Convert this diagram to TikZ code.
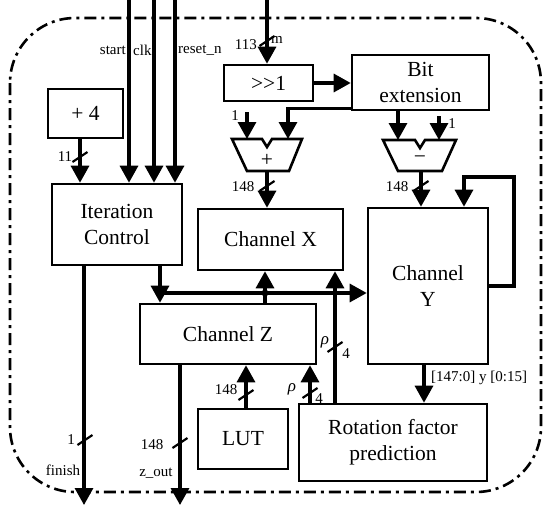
\documentclass[tikz,border=0pt]{standalone}
\usepackage{fontspec}
\setmainfont{Liberation Serif}
\usetikzlibrary{arrows.meta,calc}
\newcommand\bigf{\fontsize{21.5}{26}\selectfont}
\newcommand\smallf{\fontsize{15}{17}\selectfont}
\tikzset{
  box/.style={draw, line width=2.6pt, font=\bigf, align=center, inner sep=0pt},
  wire/.style={line width=3.2pt},
  arr/.style={wire, -{Triangle[length=17pt,width=18pt]}},
  lbl/.style={font=\smallf, inner sep=0pt},
  rho/.style={font=\fontsize{17}{18}\selectfont\itshape, inner sep=0pt},
  bslash/.style={line width=2.2pt},
  border/.style={line width=2.6pt, dash pattern=on 12pt off 5pt on 3pt off 5pt, rounded corners=65pt},
  alu/.style={line width=2.6pt, line join=miter}
}
\begin{document}
\begin{tikzpicture}[x=1pt,y=-1pt]
\useasboundingbox (0,0) rectangle (550,514);
\draw[border] (10,18) rectangle (541,492);

% boxes
\node[box, minimum width=75pt, minimum height=49pt] (plus4) at (85.5,113.5) {+ 4};
\node[box, minimum width=130pt, minimum height=81pt] (ic) at (117,224.5) {Iteration\\Control};
\node[box, minimum width=89pt, minimum height=36pt] (shr) at (268.5,83) {>{}>1};
\node[box, minimum width=137pt, minimum height=55pt] (bitext) at (420.5,82.5) {Bit\\extension};
\node[box, minimum width=145pt, minimum height=61pt] (chx) at (270.5,239.5) {Channel X};
\node[box, minimum width=120pt, minimum height=156pt] (chy) at (428,286) {Channel\\Y};
\node[box, minimum width=176pt, minimum height=60pt] (chz) at (228,334) {Channel Z};
\node[box, minimum width=90pt, minimum height=60pt] (lut) at (243,439) {LUT};
\node[box, minimum width=188pt, minimum height=77pt] (rfp) at (393,442.5) {Rotation factor\\prediction};

% adder and subtractor
\draw[alu] (232,139) -- (262,139) -- (267,147) -- (272,139) -- (302,139) -- (289,171) -- (247,171) -- cycle;
\node[font=\bigf, inner sep=0pt] (addsym) at (267,160) {+};
\coordinate (addL) at (247,139);
\coordinate (addR) at (288,139);
\coordinate (addO) at (267,171);
\draw[alu] (383,140) -- (415,140) -- (420,148) -- (425,140) -- (456,140) -- (442,171) -- (398,171) -- cycle;
\node[font=\bigf, inner sep=0pt] (subsym) at (420,160) {−};
\coordinate (subL) at (398,140);
\coordinate (subR) at (439,140);
\coordinate (subO) at (421,171);

% free ends and columns
\coordinate (start) at (129,0);
\coordinate (clk) at (154,0);
\coordinate (rst) at (175,0);
\coordinate (min) at (267,0);
\coordinate (p4x) at (80,0);
\coordinate (one1) at (247,112);
\coordinate (one2) at (439,116);
\coordinate (icx) at (160,0);
\coordinate (bus) at (160,293);
\coordinate (zx) at (265,0);
\coordinate (rx) at (335,0);
\coordinate (rz) at (310,0);
\coordinate (lx) at (246,0);
\coordinate (yx) at (424,0);
\coordinate (fin) at (84,505);
\coordinate (zout) at (180,505);
\coordinate (fbR) at (514,177);
\path (chy.north) ++(36,0) coordinate (fbIn);

% inputs
\draw[arr] (start) -- (start |- ic.north);
\draw[arr] (clk) -- (clk |- ic.north);
\draw[arr] (rst) -- (rst |- ic.north);
\node[lbl, anchor=east] (lstart) at (126,50) {start};
\node[lbl, anchor=west] (lclk) at (133,50) {clk};
\node[lbl, anchor=west] (lrst) at (178,50) {reset\_n};

\draw[arr] (min) -- (min |- shr.north);
\draw[bslash] (267,41) ++(-7.5,5) -- ++(15,-10);
\node[lbl, anchor=east] (l113) at (257,45) {113};
\node[lbl, anchor=west] (lm) at (271,40) {m};

\draw[arr] (plus4.south -| p4x) -- (ic.north -| p4x);
\draw[bslash] (80,157) ++(-7.5,5) -- ++(15,-10);
\node[lbl] (l11) at (65,157) {11};

\draw[arr] (shr.east) -- (bitext.west |- shr.east);
\draw[arr] ([yshift=3pt]bitext.south west) -| (addR);
\draw[arr] (one1) -- (addL);
\node[lbl] (lone1) at (235,116) {1};
\draw[arr] (bitext.south -| subL) -- (subL);
\draw[arr] (one2) -- (subR);
\node[lbl] (lone2) at (452,124) {1};

\draw[arr] (addO) -- (chx.north -| addO);
\draw[bslash] (267,186) ++(-7.5,5) -- ++(15,-10);
\node[lbl] (l148a) at (243,187) {148};
\draw[arr] (subO) -- (chy.north -| subO);
\draw[bslash] (421,186) ++(-7.5,5) -- ++(15,-10);
\node[lbl] (l148b) at (397,187) {148};

\draw[arr] (chy.east) -| (fbR) -| (fbIn);

% bus
\draw[arr] (ic.south -| icx) -- (chz.north -| icx);
\draw[arr] (bus) -- (chy.west |- bus);
\draw[arr] (chz.north -| zx) -- (chx.south -| zx);
\fill (zx |- bus) circle (3.5pt);

% rho lines
\draw[arr] (rfp.north -| rx) -- (chx.south -| rx);
\draw[bslash] (335,347) ++(-7.5,5) -- ++(15,-10);
\node[rho] (rho1) at (325,342) {ρ};
\node[lbl] (l4a) at (346,354) {4};
\draw[arr] (rfp.north -| rz) -- (chz.south -| rz);
\draw[bslash] (310,393) ++(-7.5,5) -- ++(15,-10);
\node[rho] (rho2) at (292,389) {ρ};
\node[lbl] (l4b) at (319,399) {4};

\draw[arr] (lut.north -| lx) -- (chz.south -| lx);
\draw[bslash] (246,395) ++(-7.5,5) -- ++(15,-10);
\node[lbl] (l148c) at (226,390) {148};

\draw[arr] (chy.south -| yx) -- (rfp.north -| yx);
\node[lbl, anchor=west] (ly) at (431,378) {[147:0] y [0:15]};

% outputs
\draw[arr] (ic.south -| fin) -- (fin);
\draw[bslash] (85,440) ++(-7.5,5) -- ++(15,-10);
\node[lbl] (l1f) at (71,440) {1};
\node[lbl] (lfin) at (63,470) {finish};
\draw[arr] (chz.south -| zout) -- (zout);
\draw[bslash] (180,443) ++(-7.5,5) -- ++(15,-10);
\node[lbl] (l148d) at (152,445) {148};
\node[lbl] (lzout) at (156,473) {z\_out};
\end{tikzpicture}
\end{document}
